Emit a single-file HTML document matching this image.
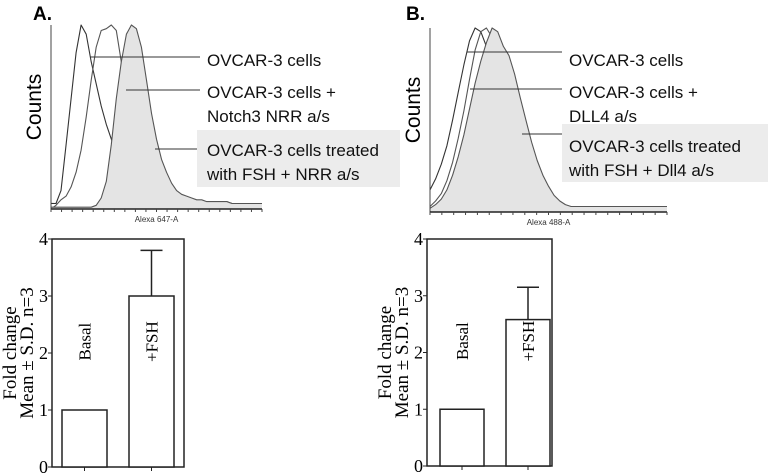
<!DOCTYPE html>
<html><head><meta charset="utf-8"><style>
body{margin:0;background:#fff;}
svg{display:block;}
text{font-family:"Liberation Sans",sans-serif;}
.serif{font-family:"Liberation Serif",serif;}
</style></head><body>
<svg id="fig" width="768" height="474" viewBox="0 0 768 474" xmlns="http://www.w3.org/2000/svg">
<rect x="197" y="130" width="203" height="57" fill="#ececec"/>
<rect x="562" y="124" width="206" height="58" fill="#ececec"/>
<text x="33" y="20" font-size="19" font-weight="bold">A.</text>
<text x="406" y="20" font-size="19" font-weight="bold">B.</text>
<g id="histA"></g>
<g id="histB"></g>
<g id="barA"></g>
<g id="barB"></g>
<g font-size="17" fill="#111">
<text x="207" y="66">OVCAR-3 cells</text>
<text x="207" y="98">OVCAR-3 cells +</text>
<text x="207" y="122">Notch3 NRR a/s</text>
<text x="207" y="156">OVCAR-3 cells treated</text>
<text x="207" y="180">with FSH + NRR a/s</text>
<text x="569" y="66">OVCAR-3 cells</text>
<text x="569" y="98">OVCAR-3 cells +</text>
<text x="569" y="122">DLL4 a/s</text>
<text x="569" y="152">OVCAR-3 cells treated</text>
<text x="569" y="176">with FSH + Dll4 a/s</text>
</g>
<g stroke="#333" stroke-width="1">
<line x1="90" y1="57" x2="200" y2="57"/><line x1="126" y1="90" x2="200" y2="90"/><line x1="155" y1="149" x2="197" y2="149"/>
<line x1="467" y1="52" x2="562" y2="52"/><line x1="470" y1="89" x2="562" y2="89"/><line x1="522" y1="134" x2="562" y2="134"/>
</g>
</svg>
<script>
// Histogram A data (relative counts at equally spaced channels)
const histA_c1=[0.03,0.03,0.1,0.35,0.6,0.85,1.0,0.95,0.8,0.68,0.56,0.46,0.38,0.31,0.25,0.2,0.16,0.13,0.11,0.1,0.09,0.08,0.07,0.06,0.06,0.05,0.05,0.05,0.04,0.04,0.04,0.04,0.04,0.04,0.04,0.04,0.03,0.03,0.03,0.03,0.03,0.03,0.03];
const histA_c2=[0.0,0.02,0.05,0.07,0.12,0.2,0.32,0.5,0.7,0.88,0.97,0.98,1.0,0.97,0.8,0.68,0.58,0.5,0.4,0.3,0.22,0.15,0.11,0.08,0.07,0.06,0.05,0.05,0.05,0.04,0.04,0.04,0.04,0.04,0.04,0.04,0.03,0.03,0.03,0.03,0.03,0.03,0.03];
const histA_c3=[0.01,0.01,0.01,0.01,0.01,0.01,0.01,0.01,0.01,0.02,0.06,0.15,0.35,0.6,0.8,0.95,1.0,0.98,0.88,0.7,0.52,0.38,0.27,0.2,0.14,0.1,0.08,0.07,0.06,0.05,0.05,0.04,0.04,0.04,0.04,0.04,0.03,0.03,0.03,0.03,0.03,0.03,0.03];
// Histogram B data
const histB_c1=[0.12,0.18,0.26,0.36,0.5,0.65,0.8,0.93,1.0,0.98,0.9,0.8,0.66,0.52,0.4,0.29,0.2,0.13,0.08,0.05,0.03,0.02,0.02,0.02,0.02,0.02,0.02,0.02,0.02,0.02,0.02,0.02,0.02,0.02,0.02,0.02,0.02,0.02,0.02,0.02,0.02,0.02,0.02];
const histB_c2=[0.03,0.06,0.1,0.17,0.27,0.4,0.55,0.72,0.88,0.98,1.0,0.95,0.85,0.72,0.6,0.48,0.37,0.27,0.18,0.12,0.08,0.05,0.04,0.03,0.03,0.03,0.03,0.03,0.03,0.03,0.03,0.03,0.03,0.03,0.03,0.03,0.03,0.03,0.03,0.03,0.03,0.03,0.03];
const histB_c3=[0.02,0.04,0.07,0.12,0.2,0.3,0.42,0.56,0.7,0.82,0.92,1.0,0.98,0.9,0.85,0.75,0.62,0.5,0.38,0.28,0.2,0.14,0.09,0.06,0.04,0.03,0.03,0.03,0.03,0.03,0.03,0.03,0.03,0.03,0.03,0.03,0.03,0.03,0.03,0.03,0.03,0.03,0.03];
// Bar chart data
const barCategories=["Basal","+FSH"];
const barA_values=[1,3.0];
const barA_err=[0,0.8];
const barB_values=[1,2.58];
const barB_err=[0,0.57];
const barTicks=[0,1,2,3,4];

const NS="http://www.w3.org/2000/svg";
function mk(tag,attrs,parent){const e=document.createElementNS(NS,tag);for(const k in attrs)e.setAttribute(k,attrs[k]);parent.appendChild(e);return e;}

function drawHist(g,x0,x1,yTop,yBot,curves,label){
  const n=curves[0].length;
  const xs=i=>x0+i*(x1-x0)/(n-1);
  const ys=v=>yBot-v*(yBot-yTop);
  curves.forEach((c,ci)=>{
    let d="M"+xs(0)+","+ys(c[0]);
    for(let i=1;i<n;i++)d+=" L"+xs(i).toFixed(1)+","+ys(c[i]).toFixed(1);
    if(ci===2){
      const f=mk('path',{d:d+" L"+x1+","+yBot+" L"+x0+","+yBot+" Z",fill:"#e4e4e4",stroke:"none"},g);
      
      
    }
    const p=mk('path',{d:d,fill:"none",stroke:ci===0?"#333":"#555","stroke-width":"1.1","stroke-linejoin":"round"},g);
    
    
  });
  mk('line',{x1:x0,y1:yTop,x2:x0,y2:yBot,stroke:"#444"},g);
  const xa=mk('line',{x1:x0,y1:yBot,x2:x1,y2:yBot,stroke:"#222","stroke-width":"1.5"},g);
  
  
  for(let i=0;i<=20;i++){const x=x0+i*(x1-x0)/20;mk('line',{x1:x,y1:yBot,x2:x,y2:yBot+3,stroke:"#444"},g);}
  const t=mk('text',{x:(x0+x1)/2,y:yBot+13,"font-size":"8","text-anchor":"middle",fill:"#333","font-family":"Liberation Mono,monospace"},g);
  t.textContent=label;
  
  
  const c=mk('text',{x:0,y:0,"font-size":"21","text-anchor":"middle",transform:"translate("+(x0-10)+","+((yTop+yBot)/2-10)+") rotate(-90)"},g);
  c.textContent="Counts";
  
  
}
drawHist(document.getElementById('histA'),51,262,25,209,[histA_c1,histA_c2,histA_c3],"Alexa 647-A");
drawHist(document.getElementById('histB'),430,667,28,212,[histB_c1,histB_c2,histB_c3],"Alexa 488-A");

function drawBar(g,ax,right,yTop,yBot,bx,bw,vals,errs){
  const ys=v=>yBot-v/4*(yBot-yTop);
  mk('rect',{x:ax,y:yTop,width:right-ax,height:yBot-yTop,fill:"none",stroke:"#222","stroke-width":"1.5"},g);
  barTicks.forEach(t=>{
    mk('line',{x1:ax-4,y1:ys(t),x2:ax,y2:ys(t),stroke:"#222"},g);
    const tx=mk('text',{x:ax-4,y:ys(t)+6,"font-size":"18","text-anchor":"end",class:"serif"},g);
    tx.textContent=t;
    
    
  });
  vals.forEach((v,i)=>{
    const x=bx[i];
    const r=mk('rect',{x:x,y:ys(v),width:bw,height:yBot-ys(v),fill:"#fff",stroke:"#222","stroke-width":"1.5"},g);
    
    
    if(errs[i]>0){
      const cx=x+bw/2;
      mk('line',{x1:cx,y1:ys(v),x2:cx,y2:ys(v+errs[i]),stroke:"#222","stroke-width":"1.5"},g);
      mk('line',{x1:cx-11,y1:ys(v+errs[i]),x2:cx+11,y2:ys(v+errs[i]),stroke:"#222","stroke-width":"1.5"},g);
    }
    mk('line',{x1:x+bw/2,y1:yBot,x2:x+bw/2,y2:yBot+4,stroke:"#222"},g);
    const lt=mk('text',{x:0,y:0,"font-size":"17","text-anchor":"middle",class:"serif",transform:"translate("+(x+bw/2+6)+","+ys(2.2)+") rotate(-90)"},g);
    lt.textContent=barCategories[i];
    
    
  });
  const yc=(yTop+yBot)/2;
  const a=mk('text',{x:0,y:0,"font-size":"19","text-anchor":"middle",class:"serif",transform:"translate("+(ax-36)+","+yc+") rotate(-90)"},g);
  a.textContent="Fold change";
  
  
  const b=mk('text',{x:0,y:0,"font-size":"19","text-anchor":"middle",class:"serif",transform:"translate("+(ax-19)+","+yc+") rotate(-90)"},g);
  b.textContent="Mean \u00b1 S.D. n=3";
  
  
}
drawBar(document.getElementById('barA'),52,184,239,467,[62,129],45,barA_values,barA_err);
drawBar(document.getElementById('barB'),427,552,239,466,[440,506],44,barB_values,barB_err);
</script>
</body></html>
